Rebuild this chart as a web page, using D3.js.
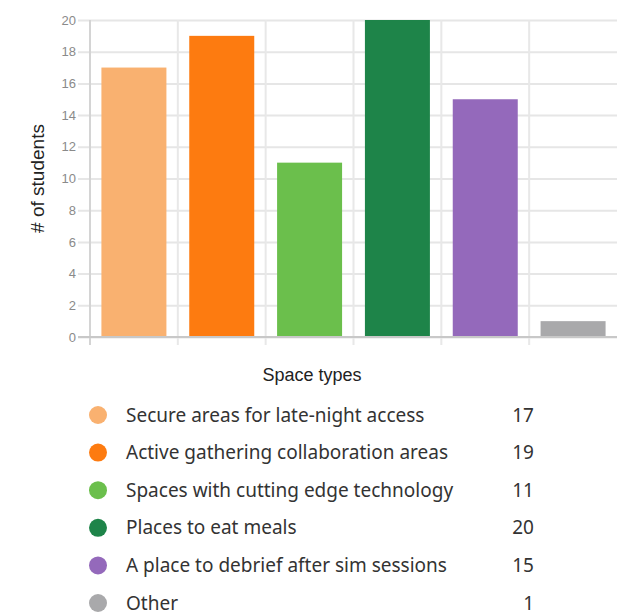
<!DOCTYPE html>
<head>
<meta charset="UTF-8">
<script src="https://d3js.org/d3.v7.min.js"></script>
<style>
  body { margin: 0; background: #fff; }
  .tick text { font-family: "Liberation Sans", Arial, sans-serif; font-size: 13px; fill: #8a8a8a; }
  .axis-title { font-family: "Liberation Sans", Arial, sans-serif; fill: #222; }
  .legend text { font-family: "Noto Sans", sans-serif; font-size: 19px; fill: #333; }
</style>
</head>
<body>
<div id="chart"></div>
<script>
  var categories = ["Secure areas for late-night access", "Active gathering collaboration areas",
    "Spaces with cutting edge technology", "Places to eat meals",
    "A place to debrief after sim sessions", "Other"];
  var counts = [17, 19, 11, 20, 15, 1];
  var colours = ["#f9b170", "#fd7b10", "#6bbf4c", "#1e8449", "#9469bb", "#a9a9ab"];
  var yTicks = [0, 2, 4, 6, 8, 10, 12, 14, 16, 18, 20];

  var width = 628, height = 612;
  var plot = {left: 90, right: 617, top: 20, bottom: 337};

  var svg = d3.select("#chart").append("svg")
      .attr("width", width)
      .attr("height", height);

  var x = d3.scaleBand()
      .domain(categories)
      .range([plot.left, plot.right])
      .paddingInner(0.26)
      .paddingOuter(0.13);

  var y = d3.scaleLinear()
      .domain([0, 20])
      .range([plot.bottom, plot.top]);

  // horizontal gridlines + tick labels
  var yAxis = svg.append("g")
      .attr("transform", "translate(" + plot.left + ",0)")
      .call(d3.axisLeft(y).tickValues(yTicks).tickSize(12).tickPadding(2).tickSizeOuter(0));
  yAxis.select(".domain").remove();
  yAxis.selectAll(".tick line").attr("stroke", "#e6e6e6").attr("stroke-width", 2)
      .attr("x2", plot.right - plot.left).attr("x1", -12);

  // vertical gridlines at band edges
  var step = x.step();
  var edges = d3.range(1, categories.length).map(function(i) { return plot.left + i * step; });
  svg.append("g").selectAll("line")
      .data(edges)
      .enter().append("line")
      .attr("x1", function(d) { return d; })
      .attr("x2", function(d) { return d; })
      .attr("y1", plot.top)
      .attr("y2", plot.bottom + 8)
      .attr("stroke", "#e8e8e8")
      .attr("stroke-width", 2);

  // bars
  svg.append("g").selectAll("rect")
      .data(counts)
      .enter().append("rect")
      .attr("x", function(d, i) { return x(categories[i]); })
      .attr("y", function(d) { return y(d); })
      .attr("width", x.bandwidth())
      .attr("height", function(d) { return y(0) - y(d); })
      .attr("fill", function(d, i) { return colours[i]; });

  // axis lines
  svg.append("line")
      .attr("x1", plot.left).attr("x2", plot.left)
      .attr("y1", plot.top).attr("y2", plot.bottom + 8)
      .attr("stroke", "#d4d4d4").attr("stroke-width", 2);
  svg.append("line")
      .attr("x1", plot.left - 12).attr("x2", plot.right)
      .attr("y1", plot.bottom).attr("y2", plot.bottom)
      .attr("stroke", "#c8c8c8").attr("stroke-width", 2);

  svg.append("text")
      .attr("class", "axis-title")
      .attr("transform", "translate(44," + ((plot.top + plot.bottom) / 2) + ") rotate(-90)")
      .attr("text-anchor", "middle")
      .style("font-size", "19px")
      .text("# of students");

  svg.append("text")
      .attr("class", "axis-title")
      .attr("x", 312)
      .attr("y", 381)
      .attr("text-anchor", "middle")
      .style("font-size", "18px")
      .text("Space types");

  // legend
  var legend = svg.append("g").attr("class", "legend");
  var row = legend.selectAll("g")
      .data(categories)
      .enter().append("g")
      .attr("transform", function(d, i) { return "translate(0," + (415 + i * 37.6) + ")"; });
  row.append("circle")
      .attr("cx", 98)
      .attr("r", 9)
      .attr("fill", function(d, i) { return colours[i]; });
  row.append("text")
      .attr("x", 126)
      .attr("dy", "0.35em")
      .text(function(d) { return d; });
  row.append("text")
      .attr("x", 534)
      .attr("dy", "0.35em")
      .attr("text-anchor", "end")
      .text(function(d, i) { return counts[i]; });
</script>
</body>
